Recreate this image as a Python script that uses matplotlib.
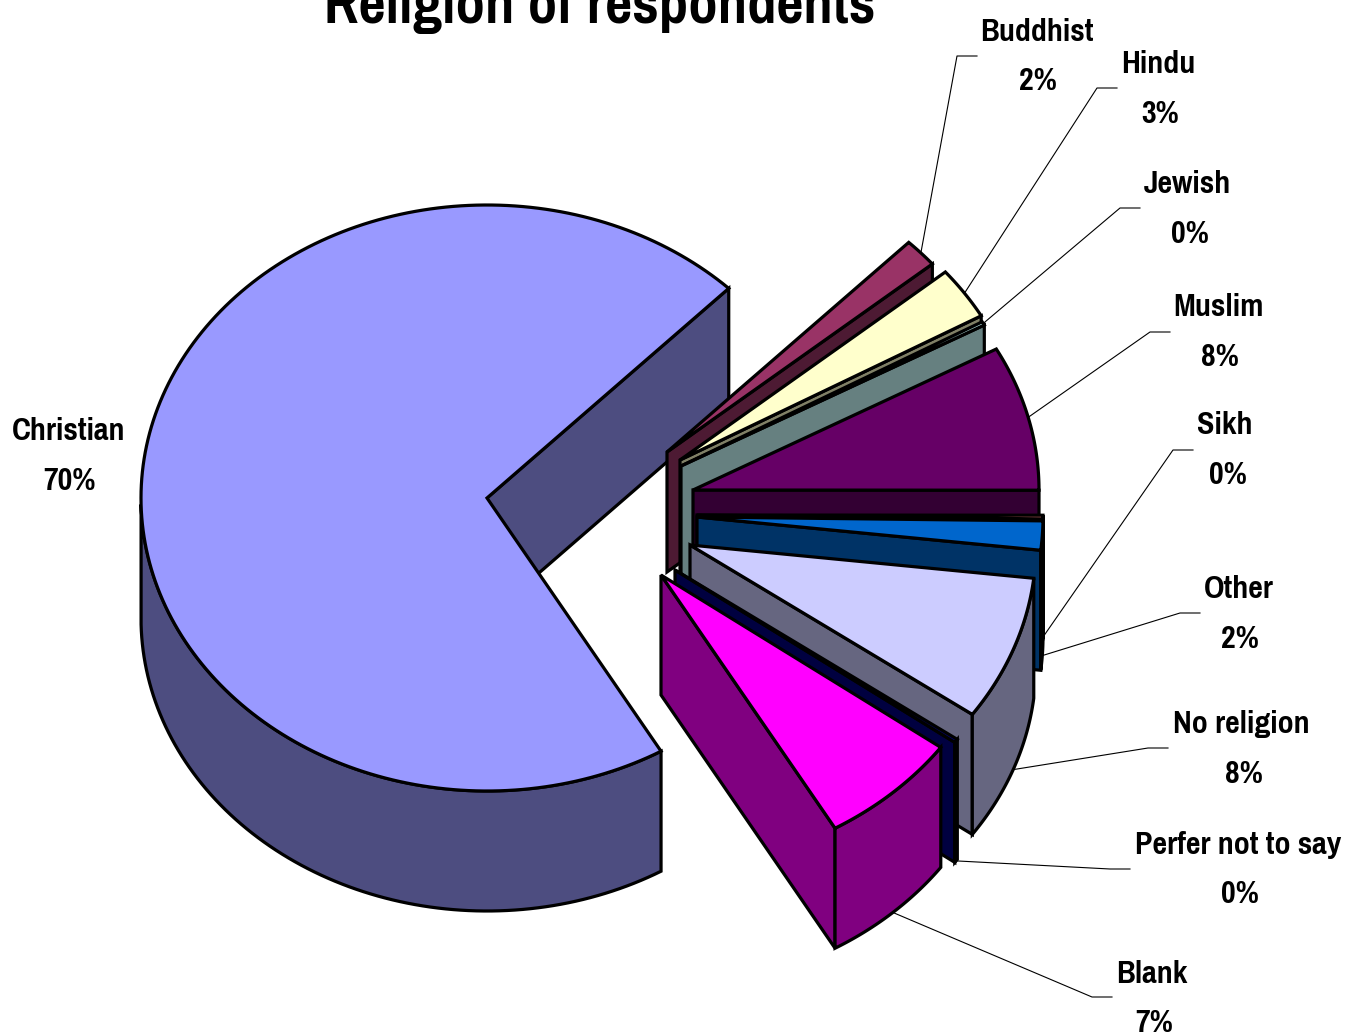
import numpy as np
import matplotlib
matplotlib.use('Agg')
import matplotlib.pyplot as plt
from matplotlib.patches import Polygon

# slices, clockwise, Christian first
names = ['Christian', 'Buddhist', 'Hindu', 'Jewish', 'Muslim', 'Sikh', 'Other',
         'No religion', 'Perfer not to say', 'Blank']
values = [70.7, 1.6, 2.9, 0.2, 8.0, 0.2, 1.6, 8.0, 0.2, 6.6]
pct_labels = ['70%', '2%', '3%', '0%', '8%', '0%', '2%', '8%', '0%', '7%']
colors = ['#9999FF', '#993366', '#FFFFCC', '#CCFFFF', '#660066', '#FF8080', '#0066CC',
          '#CCCCFF', '#000080', '#FF00FF']

# layout, in pixels
rx, ry, depth = 346, 293, 120
start_angle = -59.8
apex = [(487, 498), (667, 452), (680, 460), (681, 466), (693, 490), (697, 515), (697, 517),
        (690, 545), (675, 570), (661, 575)]
name_pos = [(69, 440), (1037, 41), (1158, 73), (1187, 193), (1218, 316), (1225, 434),
            (1239, 598), (1241, 733), (1238, 854), (1152, 983)]
pct_pos = [(70, 490), (1038, 90), (1160, 123), (1190, 243), (1220, 366), (1228, 484),
           (1240, 648), (1244, 783), (1240, 903), (1154, 1032)]
# label end of each leader line: x start, y (Christian has none)
leader_end = [None, (977, 56), (1117, 88), (1140, 208), (1170, 332), (1193, 450),
              (1200, 613), (1168, 748), (1130, 869), (1112, 997)]

FONT = ['Pragati Narrow', 'PT Sans Narrow', 'Archivo Narrow', 'Liberation Sans Narrow',
        'Liberation Sans', 'DejaVu Sans']


def rim(cx, cy, a, dy=0):
    a = np.radians(a)
    return np.column_stack([cx + rx * np.cos(a), cy - ry * np.sin(a) + dy])


def darker(c):
    return tuple(v * 0.5 for v in matplotlib.colors.to_rgb(c))


fig = plt.figure(figsize=(13.46, 10.36), dpi=100)
ax = fig.add_axes([0, 0, 1, 1])
ax.set_xlim(0, 1346)
ax.set_ylim(1036, 0)
ax.axis('off')

poly_kw = dict(edgecolor='black', linewidth=2.3, joinstyle='miter')
spans = np.array(values) / sum(values) * 360
a0 = start_angle
for i, name in enumerate(names):
    a1 = a0 - spans[i]
    cx, cy = apex[i]
    side = darker(colors[i])

    # cut face at the clockwise end of the slice
    e = rim(cx, cy, np.array([a1]))[0]
    ax.add_patch(Polygon([(cx, cy), e, (e[0], e[1] + depth), (cx, cy + depth)],
                         facecolor=side, **poly_kw))

    # outer wall, only the part of the arc facing the viewer
    arc = np.linspace(a0, a1, 200)
    front = arc[np.sin(np.radians(arc)) <= 0]
    if i > 0 and a0 > 0 > a1:
        front = np.r_[0, front]
    if len(front) > 1:
        top = rim(cx, cy, front)
        bottom = rim(cx, cy, front, depth)
        ax.add_patch(Polygon(np.vstack([top, bottom[::-1]]), facecolor=side, **poly_kw))

    # top face
    ax.add_patch(Polygon(np.vstack([[(cx, cy)], rim(cx, cy, arc)]),
                         facecolor=colors[i], **poly_kw))

    # leader line goes to the rim at the middle of the slice
    if leader_end[i] is not None:
        mid = (a0 + a1) / 2
        p = rim(cx, cy, np.array([mid]))[0]
        if np.sin(np.radians(mid)) < 0:
            p[1] += depth
        x, y = leader_end[i]
        ax.plot([x, x - 20, p[0]], [y, y, p[1]], color='black', lw=0.8)

    ax.text(name_pos[i][0], name_pos[i][1], name, family=FONT, fontsize=25, fontweight='bold',
            ha='center', va='baseline')
    ax.text(pct_pos[i][0], pct_pos[i][1], pct_labels[i], family=FONT, fontsize=25,
            fontweight='bold', ha='center', va='baseline')
    a0 = a1

ax.text(600, 23, 'Religion of respondents', family=FONT, fontsize=46, fontweight='bold',
        ha='center', va='baseline')

fig.savefig('out.png', dpi=100)
